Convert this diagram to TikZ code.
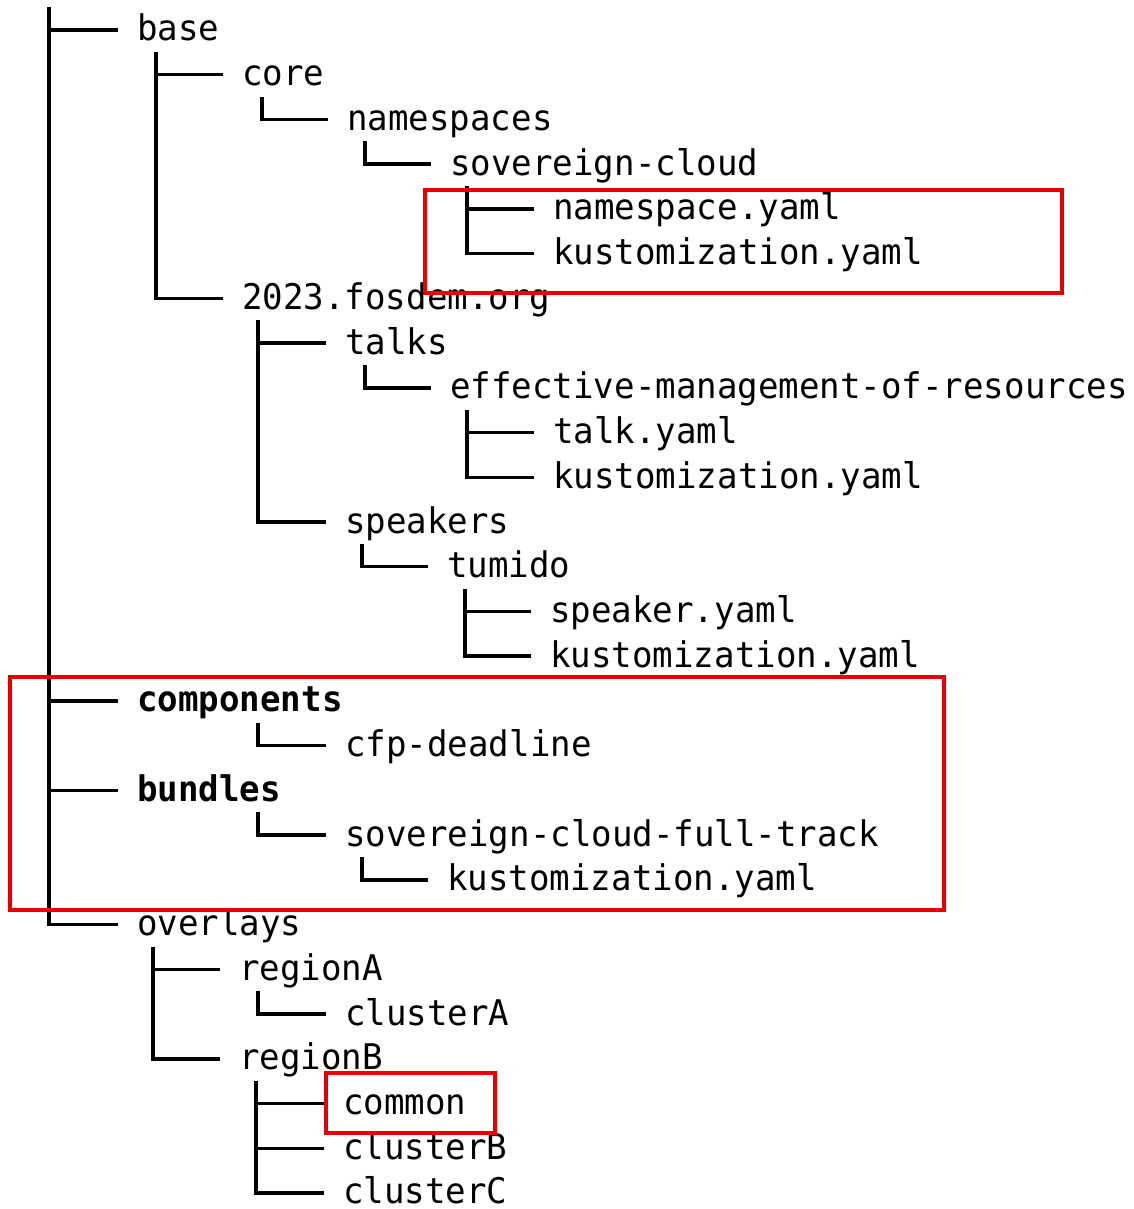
\documentclass[tikz,border=0pt]{standalone}
\usepackage{fontspec}
\setmonofont[FakeStretch=0.965]{DejaVu Sans Mono}
\newcommand\dirgap{14.25pt}
% side branch of a directory stem: horizontal stroke from the stem to the entry
\newcommand\dirbranch[2]{\draw[branch] (#1 |- #2.west) -- ([xshift=-\dirgap]#2.west);}
% stem of a directory down to its last entry, ending in the elbow
\newcommand\dirstem[2]{\draw[branch] (#1) |- ([xshift=-\dirgap]#2.west);}
\begin{document}
\begin{tikzpicture}[x=0.75pt, y=-0.75pt,
  entry/.style={anchor=west, inner sep=0pt, text height=18pt, text depth=1.5pt,
    font=\ttfamily\fontsize{26.5pt}{31pt}\selectfont},
  boldentry/.style={entry, font=\ttfamily\bfseries\fontsize{26.5pt}{31pt}\selectfont},
  branch/.style={line width=2.6pt, line cap=butt},
  frame/.style={draw={rgb,255:red,232;green,0;blue,0}, line width=2.4pt}]
\useasboundingbox (0,0) rectangle (1134,1209);

% entries, one per line
\node[entry] (base)        at (137, 30.00)   {base};
\node[entry] (core)        at (242, 74.73)   {core};
\node[entry] (namespaces)  at (347, 119.46)  {namespaces};
\node[entry] (sovcloud)    at (450, 164.19)  {sovereign-cloud};
\node[entry] (nsyaml)      at (553, 208.92)  {namespace.yaml};
\node[entry] (kustA)       at (553, 253.65)  {kustomization.yaml};
\node[entry] (fosdem)      at (242, 298.38)  {2023.fosdem.org};
\node[entry] (talks)       at (345, 343.11)  {talks};
\node[entry] (effective)   at (450, 387.84)  {effective-management-of-resources};
\node[entry] (talkyaml)    at (553, 432.57)  {talk.yaml};
\node[entry] (kustB)       at (553, 477.30)  {kustomization.yaml};
\node[entry] (speakers)    at (345, 522.03)  {speakers};
\node[entry] (tumido)      at (447, 566.76)  {tumido};
\node[entry] (speakeryaml) at (550, 611.49)  {speaker.yaml};
\node[entry] (kustC)       at (550, 656.22)  {kustomization.yaml};
\node[boldentry] (components) at (137, 700.95) {components};
\node[entry] (cfp)         at (345, 745.68)  {cfp-deadline};
\node[boldentry] (bundles) at (137, 790.41)  {bundles};
\node[entry] (fulltrack)   at (345, 835.14)  {sovereign-cloud-full-track};
\node[entry] (kustD)       at (447, 879.87)  {kustomization.yaml};
\node[entry] (overlays)    at (137, 924.60)  {overlays};
\node[entry] (regionA)     at (239, 969.33)  {regionA};
\node[entry] (clusterA)    at (345, 1014.06) {clusterA};
\node[entry] (regionB)     at (239, 1058.79) {regionB};
\node[entry] (common)      at (343, 1103.52) {common};
\node[entry] (clusterB)    at (343, 1148.25) {clusterB};
\node[entry] (clusterC)    at (343, 1192.98) {clusterC};

% tops of the directory stems
\coordinate (sRoot) at (49, 7);
\coordinate (sBase) at (156, 52);
\coordinate (sCore) at (262, 97);
\coordinate (sNs)   at (365, 141);
\coordinate (sSov)  at (467, 186);
\coordinate (sFos)  at (258, 320);
\coordinate (sTalk) at (365, 365);
\coordinate (sEff)  at (467, 410);
\coordinate (sSpk)  at (362, 544);
\coordinate (sTum)  at (465, 589);
\coordinate (sComp) at (258, 723);
\coordinate (sBund) at (258, 812);
\coordinate (sFull) at (362, 857);
\coordinate (sOver) at (153, 947);
\coordinate (sRegA) at (258, 991);
\coordinate (sRegB) at (256, 1081);

% tree connectors
\dirstem{sRoot}{overlays}
\dirbranch{sRoot}{base}
\dirbranch{sRoot}{components}
\dirbranch{sRoot}{bundles}
\dirstem{sBase}{fosdem}
\dirbranch{sBase}{core}
\dirstem{sCore}{namespaces}
\dirstem{sNs}{sovcloud}
\dirstem{sSov}{kustA}
\dirbranch{sSov}{nsyaml}
\dirstem{sFos}{speakers}
\dirbranch{sFos}{talks}
\dirstem{sTalk}{effective}
\dirstem{sEff}{kustB}
\dirbranch{sEff}{talkyaml}
\dirstem{sSpk}{tumido}
\dirstem{sTum}{kustC}
\dirbranch{sTum}{speakeryaml}
\dirstem{sComp}{cfp}
\dirstem{sBund}{fulltrack}
\dirstem{sFull}{kustD}
\dirstem{sOver}{regionB}
\dirbranch{sOver}{regionA}
\dirstem{sRegA}{clusterA}
\dirstem{sRegB}{clusterC}
\dirbranch{sRegB}{common}
\dirbranch{sRegB}{clusterB}

% highlight frames
\draw[frame] (425,190) rectangle (1062,293);
\draw[frame] (10,677) rectangle (944,910);
\draw[frame] (326,1073) rectangle (495,1133);
\end{tikzpicture}
\end{document}
